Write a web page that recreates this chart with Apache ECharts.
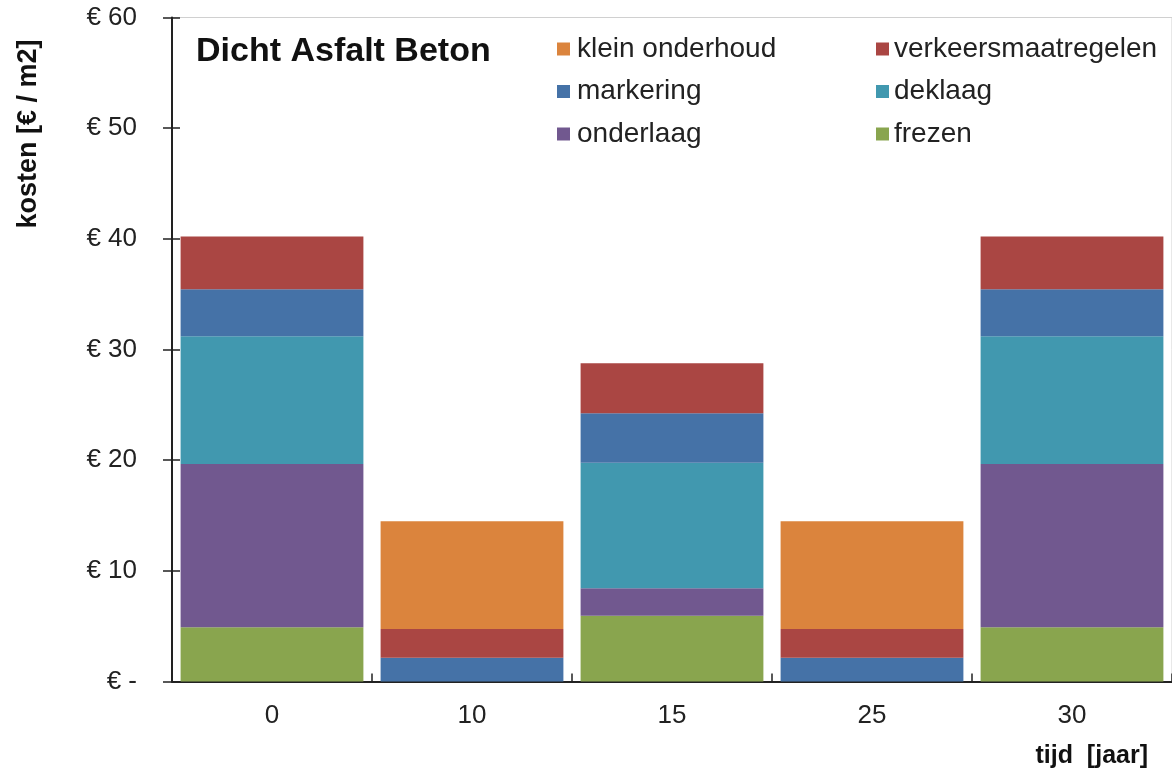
<!DOCTYPE html>
<html>
<head>
<meta charset="utf-8">
<script src="https://cdn.jsdelivr.net/npm/echarts@6/dist/echarts.min.js"></script>
<style>
html,body{margin:0;padding:0;background:#fff;}
#chart{width:1172px;height:769px;}
</style>
</head>
<body>
<div id="chart"></div>
<script>
// ---- data ----
var categories = ['0', '10', '15', '25', '30'];
var frezen              = [4.9, 0, 5.95, 0, 4.9];
var onderlaag           = [14.75, 0, 2.47, 0, 14.75];
var deklaag             = [11.54, 0, 11.35, 0, 11.54];
var markering           = [4.25, 2.15, 4.46, 2.15, 4.25];
var verkeersmaatregelen = [4.76, 2.59, 4.52, 2.59, 4.76];
var kleinOnderhoud      = [0, 9.73, 0, 9.73, 0];
var yTickLabels = ['€ -', '€ 10', '€ 20', '€ 30', '€ 40', '€ 50', '€ 60'];
var titleText = 'Dicht Asfalt Beton';
var yName = 'kosten [€ / m2]';
var xName = 'tijd  [jaar]';

var colors = {
  'klein onderhoud': '#DB843D',
  'verkeersmaatregelen': '#AA4643',
  'markering': '#4572A7',
  'deklaag': '#4198AF',
  'onderlaag': '#71588F',
  'frezen': '#89A54E'
};

var FONT = '"Liberation Sans", Arial, sans-serif';
function mk(name, data) {
  return {
    name: name, type: 'bar', stack: 'total', data: data,
    xAxisIndex: 0, yAxisIndex: 0,
    barCategoryGap: '8.6%',
    itemStyle: { color: colors[name] },
    emphasis: { disabled: true }
  };
}

var legendText = { fontSize: 28, color: '#222', fontFamily: FONT, padding: [0, 0, 0, 2] };
var chart = echarts.init(document.getElementById('chart'));
chart.setOption({
  animation: false,
  textStyle: { fontFamily: FONT },
  grid: { left: 172, top: 17.5, width: 1003, height: 664, show: true, borderColor: '#d0d0d0', borderWidth: 1 },
  legend: [
    {
      data: ['klein onderhoud', 'markering', 'onderlaag'],
      orient: 'vertical', left: 557, top: 35, padding: 0, itemWidth: 13, itemHeight: 13, itemGap: 14.5,
      icon: 'rect', textStyle: legendText
    },
    {
      data: ['verkeersmaatregelen', 'deklaag', 'frezen'],
      orient: 'vertical', left: 876, top: 35, padding: 0, itemWidth: 13, itemHeight: 13, itemGap: 14.5,
      icon: 'rect', textStyle: { fontSize: 28, color: '#222', fontFamily: FONT }
    }
  ],
  xAxis: [
    {
      type: 'category', data: categories, position: 'bottom',
      axisLine: { lineStyle: { color: '#222', width: 2 } },
      axisTick: { length: 9, lineStyle: { color: '#222', width: 1.5 } },
      axisLabel: { fontSize: 26, color: '#222', margin: 21, fontFamily: FONT }
    },
    {
      type: 'category', data: categories, position: 'bottom', gridIndex: 0,
      axisLine: { show: true, lineStyle: { opacity: 0 } },
      axisTick: { show: true, inside: true, length: 8, lineStyle: { color: '#222', width: 1.5 } },
      axisLabel: { show: false }
    }
  ],
  yAxis: [
    {
      type: 'value', min: 0, max: 60, interval: 10, position: 'left',
      axisLine: { show: true, lineStyle: { color: '#222', width: 2 } },
      axisTick: { show: true, length: 9, lineStyle: { color: '#222', width: 1.5 } },
      splitLine: { show: false },
      axisLabel: {
        fontSize: 26, color: '#222', margin: 35, fontFamily: FONT,
        formatter: function (v) { return yTickLabels[Math.round(v / 10)]; }
      }
    },
    {
      type: 'value', min: 0, max: 60, interval: 10, position: 'left',
      axisLine: { show: true, lineStyle: { opacity: 0 } },
      axisTick: { show: true, inside: true, length: 8, lineStyle: { color: '#222', width: 1.5 } },
      splitLine: { show: false },
      axisLabel: { show: false }
    }
  ],
  series: [
    mk('frezen', frezen),
    mk('onderlaag', onderlaag),
    mk('deklaag', deklaag),
    mk('markering', markering),
    mk('verkeersmaatregelen', verkeersmaatregelen),
    mk('klein onderhoud', kleinOnderhoud)
  ],
  graphic: [
    {
      type: 'text', x: 196, y: 52,
      style: { text: titleText, font: 'bold 34px ' + FONT, fill: '#111', verticalAlign: 'middle' }
    },
    {
      type: 'text', x: 29, y: 134, rotation: Math.PI / 2,
      style: { text: yName, font: 'bold 27px ' + FONT, fill: '#111', align: 'center', verticalAlign: 'middle' }
    },
    {
      type: 'text', x: 1148, y: 756,
      style: { text: xName, font: 'bold 25px ' + FONT, fill: '#111', align: 'right', verticalAlign: 'middle' }
    }
  ]
});
</script>
</body>
</html>
